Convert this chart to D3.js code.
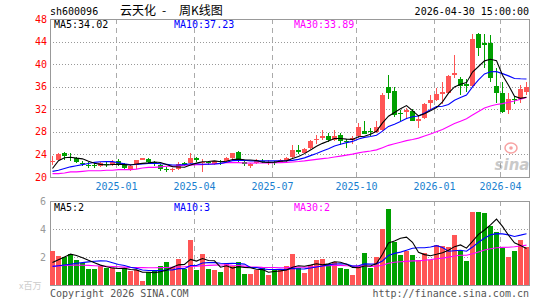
<!DOCTYPE html>
<html>
<head>
<meta charset="utf-8">
<script src="https://cdn.jsdelivr.net/npm/d3@7"></script>
<style>
  html, body { margin: 0; padding: 0; background: #fff; }
  svg { display: block; }
  text { font-family: "DejaVu Sans Mono", monospace; font-size: 10px; }
</style>
</head>
<body>
<div id="chart"></div>
<script>
// weekly candles, sh600096, 2024-10-18 .. 2026-04-30
const open  = [22.6,23.1,24.3,23.6,23.4,22.5,22.2,22.1,21.9,22.3, 22.2,22.9,22.3,21.3,22.2,23.1,23.2,22.6,22.1,21.5, 21.2,21.5,22.4,22.4,23.3,22.4,22.6,22.3,22.8,22.8, 23.3,24.4,22.6,21.9,22.5,22.9,22.5,22.7,22.6,22.9, 23.5,24.8,24.3,25.2,26.5,26.9,27.3,26.6,27.5,26.4, 26.6,27.3,28.1,28.1,27.9,28.4,36.0,35.2,31.4,31.5, 31.7,30.0,30.4,33.1,33.7,34.7,34.9,38.0,37.3,36.5, 36.1,45.4,43.7,43.7,36.1,34.9,31.8,33.9,33.9,35.0];
const high  = [23.8,24.3,24.5,24.2,23.6,22.9,22.6,22.4,22.6,22.8, 23.0,23.2,22.5,22.2,23.0,23.4,23.3,22.9,22.3,21.7, 21.6,22.7,22.7,24.3,23.5,23.2,22.9,22.9,23.1,23.6, 24.3,24.6,22.8,22.5,23.2,23.2,23.1,22.8,23.2,23.5, 25.6,25.7,25.1,26.5,27.4,28.4,27.8,28.3,27.8,26.8, 27.2,29.6,30.0,28.6,30.0,34.9,38.0,36.0,31.8,32.2, 32.0,31.0,33.2,34.6,35.8,36.8,38.1,41.6,37.7,37.3, 45.3,45.6,45.4,45.2,39.3,36.8,34.8,34.3,36.3,36.8];
const low   = [22.1,23.0,23.1,22.9,22.4,21.9,21.6,21.6,21.7,21.7, 22.0,21.9,21.4,21.1,21.4,23.0,22.4,22.0,21.1,20.9, 20.9,21.3,21.9,22.3,22.7,20.9,22.2,22.1,22.2,22.5, 23.1,22.5,21.9,21.6,22.3,22.4,22.2,22.1,22.4,22.7, 23.3,24.1,24.2,25.0,25.8,26.6,26.2,26.3,25.7,25.2, 25.8,27.0,27.6,27.2,27.8,28.2,33.9,30.6,30.0,30.4, 29.9,28.7,30.2,31.9,33.4,32.9,34.7,37.5,34.5,35.1, 35.9,41.5,39.3,36.8,33.1,31.4,31.1,33.0,33.1,34.5];
const close = [22.9,24.1,23.7,23.4,22.6,22.3,22.0,21.9,22.4,22.1, 22.7,22.2,21.6,22.0,23.0,23.3,22.6,22.4,21.5,21.3, 21.4,22.3,22.2,23.4,23.0,22.6,22.5,22.8,22.6,23.4, 24.2,22.8,22.3,22.3,23.0,22.7,22.7,22.5,23.0,23.4, 24.8,24.5,25.0,26.3,26.7,27.3,26.5,27.3,26.3,26.2, 27.0,28.9,27.7,28.0,28.9,34.5,34.8,31.0,31.2,31.8, 30.0,30.2,32.9,33.7,34.7,35.1,37.9,38.4,36.1,36.1, 44.5,42.8,43.4,37.5,34.9,31.6,33.9,33.7,35.6,35.9];

const ma5  = [21.5,22.9,23.4,23.5,23.34,23.22,22.8,22.44,22.24,22.14, 22.22,22.26,22.2,22.12,22.3,22.42,22.5,22.66,22.56,22.22, 21.84,21.78,21.74,22.12,22.46,22.7,22.74,22.86,22.7,22.78, 23.1,23.16,23.06,23.0,22.92,22.62,22.6,22.64,22.78,22.86, 23.28,23.64,24.14,24.8,25.46,25.96,26.36,26.82,26.82,26.72, 26.66,27.14,27.22,27.56,28.1,29.6,30.78,31.44,32.08,32.66, 31.76,30.84,31.22,31.72,32.3,33.32,34.86,35.96,36.44,36.72, 38.6,39.58,40.58,40.86,40.62,38.04,36.26,34.32,33.94,34.14];
const ma10 = [21.0,21.2,21.5,21.8,22.0,22.2,22.4,22.6,22.7,22.74, 22.72,22.53,22.32,22.18,22.22,22.32,22.38,22.43,22.34,22.26, 22.13,22.14,22.2,22.34,22.34,22.27,22.26,22.3,22.41,22.62, 22.9,22.95,22.96,22.85,22.85,22.86,22.88,22.85,22.89,22.89, 22.95,23.12,23.39,23.79,24.16,24.62,25.0,25.48,25.81,26.09, 26.31,26.75,27.02,27.19,27.41,28.13,28.96,29.33,29.82,30.38, 30.68,30.81,31.33,31.9,32.48,32.54,32.85,33.59,34.08,34.51, 35.96,37.22,38.27,38.65,38.67,38.32,37.92,37.45,37.4,37.38];
const ma30 = [20.6,20.6,20.7,20.9,20.9,21.0,21.1,21.1,21.1,21.2, 21.2,21.3,21.3,21.3,21.4,21.6,21.7,21.7,21.8,21.9, 21.9,22.0,22.1,22.1,22.2,22.2,22.3,22.3,22.4,22.54, 22.58,22.54,22.49,22.46,22.47,22.48,22.51,22.53,22.55,22.59, 22.66,22.74,22.85,22.99,23.12,23.25,23.38,23.54,23.7,23.87, 24.05,24.27,24.46,24.61,24.81,25.2,25.61,25.89,26.17,26.45, 26.65,26.89,27.25,27.63,28.02,28.43,28.94,29.47,29.9,30.33, 30.98,31.59,32.21,32.58,32.85,33.0,33.24,33.46,33.77,34.09];

// volume, millions of shares
const volume = [2.41,2.1,2.0,2.24,1.8,1.6,1.16,1.16,1.37,1.23, 1.2,0.94,1.2,1.0,1.08,0.31,0.94,1.04,1.37,1.66, 1.28,1.86,1.16,3.2,1.04,2.19,1.16,1.04,0.94,1.52, 1.37,1.66,0.8,0.8,1.04,1.2,0.72,1.04,1.04,1.33, 2.24,1.2,0.89,1.45,1.8,1.88,1.52,1.66,1.25,1.13, 0.72,1.37,2.31,1.25,2.0,4.0,5.42,3.1,2.17,2.41, 2.17,1.8,2.31,1.78,2.89,2.77,2.7,3.54,2.41,1.73, 5.2,5.2,5.13,4.2,3.8,2.63,1.98,2.46,3.25,2.7];
const vma5  = [1.6,1.8,2.0,2.2,2.11,1.95,1.76,1.59,1.42,1.30, 1.22,1.18,1.19,1.11,1.08,0.91,0.91,0.87,0.95,1.06, 1.26,1.44,1.47,1.83,1.71,1.89,1.75,1.73,1.27,1.37, 1.21,1.31,1.26,1.23,1.13,1.10,0.91,0.96,1.01,1.07, 1.27,1.37,1.34,1.42,1.52,1.44,1.51,1.66,1.62,1.49, 1.26,1.23,1.36,1.36,1.53,2.19,3.0,3.15,3.34,3.42, 3.05,2.33,2.17,2.09,2.19,2.31,2.49,2.74,2.86,2.63, 3.12,3.62,3.93,4.29,4.71,4.19,3.55,3.01,2.82,2.60];
const vma10 = [1.33,1.38,1.43,1.48,1.55,1.6,1.65,1.7,1.72,1.71, 1.59,1.47,1.39,1.27,1.19,1.07,1.04,1.03,1.03,1.07, 1.08,1.17,1.17,1.39,1.39,1.57,1.60,1.60,1.55,1.54, 1.55,1.53,1.49,1.25,1.25,1.15,1.11,1.11,1.12,1.10, 1.19,1.14,1.15,1.22,1.29,1.36,1.44,1.50,1.52,1.50, 1.35,1.37,1.51,1.49,1.51,1.72,2.11,2.26,2.35,2.48, 2.62,2.66,2.66,2.72,2.81,2.68,2.41,2.45,2.48,2.41, 2.71,3.05,3.34,3.58,3.67,3.65,3.58,3.47,3.56,3.66];
const vma30 = [1.33,1.36,1.4,1.42,1.42,1.41,1.4,1.38,1.36,1.34, 1.32,1.3,1.28,1.26,1.25,1.24,1.23,1.23,1.24,1.25, 1.27,1.29,1.3,1.33,1.35,1.38,1.4,1.42,1.43,1.44, 1.41,1.39,1.35,1.30,1.28,1.26,1.25,1.25,1.23,1.24, 1.27,1.28,1.27,1.29,1.31,1.36,1.38,1.40,1.40,1.38, 1.36,1.35,1.38,1.32,1.35,1.41,1.55,1.62,1.66,1.69, 1.72,1.72,1.77,1.81,1.87,1.92,1.99,2.07,2.12,2.13, 2.23,2.36,2.50,2.59,2.66,2.69,2.70,2.73,2.79,2.85];

// month ticks: candle index where a new month starts
const monthIdx = [11, 24, 37, 51, 64, 75];
const monthLabels = ["2025-01", "2025-04", "2025-07", "2025-10", "2026-01", "2026-04"];
const priceTicks = [20, 24, 28, 32, 36, 40, 44, 48];
const volTicks = [2, 4, 6];

const W = 545, H = 300;
const box = { left: 50, right: 529 };
const main = { top: 19, bottom: 177 };
const vol = { top: 201, bottom: 285 };
const UP = "#ff5555", DOWN = "#00a000";

const x = d3.scaleLinear().domain([0, close.length - 1]).range([52.5, 52.5 + 6 * (close.length - 1)]);
const y = d3.scaleLinear().domain([20, 48]).range([main.bottom, main.top]);
const yv = d3.scaleLinear().domain([0, 6]).range([vol.bottom, vol.top]);

const svg = d3.select("#chart").append("svg").attr("width", W).attr("height", H);

function panelGrid(top, bottom, ticks, scale) {
  const g = svg.append("g").attr("shape-rendering", "crispEdges");
  g.selectAll("line.h").data(ticks.filter((t) => scale(t) > top + 1 && scale(t) < bottom - 1)).join("line")
    .attr("x1", box.left).attr("x2", box.right)
    .attr("y1", (d) => Math.round(scale(d)) + 0.5).attr("y2", (d) => Math.round(scale(d)) + 0.5)
    .attr("stroke", "#999").attr("stroke-dasharray", "1,2");
  g.selectAll("line.v").data(monthIdx).join("line")
    .attr("x1", (d) => x(d) - 2).attr("x2", (d) => x(d) - 2)
    .attr("y1", top).attr("y2", bottom)
    .attr("stroke", "#aaa").attr("stroke-dasharray", "5,4");
  g.append("rect")
    .attr("x", box.left + 0.5).attr("y", top + 0.5)
    .attr("width", box.right - box.left).attr("height", bottom - top)
    .attr("fill", "none").attr("stroke", "#999");
}

panelGrid(main.top, main.bottom, priceTicks, y);
panelGrid(vol.top, vol.bottom, volTicks, yv);

// header
const cjk = '"Noto Sans CJK SC", sans-serif';
svg.append("text").attr("x", 50).attr("y", 15).attr("fill", "#000").text("sh600096");
[["云天化", 120], ["-", 162], ["周K线图", 179]].forEach(([t, px]) => {
  svg.append("text").attr("x", px).attr("y", 15)
    .style("font-family", cjk).style("font-size", "12px")
    .attr("fill", "#000").text(t);
});
svg.append("text").attr("x", 529).attr("y", 15).attr("text-anchor", "end").attr("fill", "#000")
  .text("2026-04-30 15:00:00");

// axis labels
svg.append("g").selectAll("text").data(priceTicks).join("text")
  .attr("x", 47).attr("y", (d) => y(d)).attr("dy", "0.35em").attr("text-anchor", "end")
  .attr("fill", "#f00").text((d) => d);

svg.append("g").selectAll("text").data(volTicks).join("text")
  .attr("x", 46).attr("y", (d) => yv(d)).attr("dy", "0.35em").attr("text-anchor", "end")
  .attr("fill", "#999").text((d) => d);

svg.append("g").selectAll("text").data(monthIdx).join("text")
  .attr("x", (d) => x(d) - 2).attr("y", 189.5).attr("text-anchor", "middle")
  .attr("fill", "#1a7fd0").text((d, i) => monthLabels[i]);

// sina watermark
const wm = svg.append("g").attr("opacity", 0.45);
wm.append("ellipse").attr("cx", 511).attr("cy", 148).attr("rx", 6).attr("ry", 5)
  .attr("fill", "none").attr("stroke", "#e33").attr("stroke-width", 1.5);
wm.append("circle").attr("cx", 511).attr("cy", 148).attr("r", 1.8).attr("fill", "#e33");
wm.append("text").attr("x", 512).attr("y", 170).attr("text-anchor", "middle")
  .style("font-family", "'DejaVu Sans', sans-serif").style("font-size", "15px")
  .style("font-style", "italic").style("font-weight", "bold").attr("fill", "#888").text("sina");

// candles
const idx = d3.range(close.length);
const isUp = (i) => close[i] >= open[i];
const cg = svg.append("g").attr("shape-rendering", "crispEdges");
cg.selectAll("line").data(idx).join("line")
  .attr("x1", (i) => x(i)).attr("x2", (i) => x(i))
  .attr("y1", (i) => y(high[i])).attr("y2", (i) => y(low[i]))
  .attr("stroke", (i) => isUp(i) ? UP : DOWN);
cg.selectAll("rect").data(idx).join("rect")
  .attr("x", (i) => x(i) - 2.5).attr("width", 5)
  .attr("y", (i) => y(Math.max(open[i], close[i])))
  .attr("height", (i) => Math.max(1, Math.abs(y(open[i]) - y(close[i]))))
  .attr("fill", (i) => isUp(i) ? UP : DOWN);

// volume bars
svg.append("g").attr("shape-rendering", "crispEdges").selectAll("rect").data(idx).join("rect")
  .attr("x", (i) => x(i) - 2.5).attr("width", 5)
  .attr("y", (i) => yv(volume[i])).attr("height", (i) => vol.bottom - yv(volume[i]))
  .attr("fill", (i) => isUp(i) ? UP : DOWN);

function maLine(values, scale, color) {
  const line = d3.line().x((d, i) => x(i)).y((d) => scale(d));
  svg.append("path").datum(values).attr("d", line)
    .attr("fill", "none").attr("stroke", color).attr("stroke-width", 1.1);
}
maLine(ma30, y, "#f0f");
maLine(ma10, y, "#00f");
maLine(ma5, y, "#000");
maLine(vma30, yv, "#f0f");
maLine(vma10, yv, "#00f");
maLine(vma5, yv, "#000");

// legends
const legend = [
  { x: 54, text: "MA5:34.02", v: "MA5:2", color: "#000" },
  { x: 174, text: "MA10:37.23", v: "MA10:3", color: "#00f" },
  { x: 294, text: "MA30:33.89", v: "MA30:2", color: "#f0f" }
];
legend.forEach((d) => {
  svg.append("text").attr("x", d.x).attr("y", 28).attr("fill", d.color).text(d.text);
  svg.append("text").attr("x", d.x).attr("y", 211).attr("fill", d.color).text(d.v);
});

// footer
svg.append("text").attr("x", 19).attr("y", 289)
  .style("font-family", cjk).style("font-size", "9px")
  .attr("fill", "#ccc").text("x百万");
svg.append("text").attr("x", 50).attr("y", 296.5).attr("fill", "#555").text("Copyright 2026 SINA.COM");
svg.append("text").attr("x", 529).attr("y", 296.5).attr("text-anchor", "end").attr("fill", "#555")
  .text("http://finance.sina.com.cn");
</script>
</body>
</html>
